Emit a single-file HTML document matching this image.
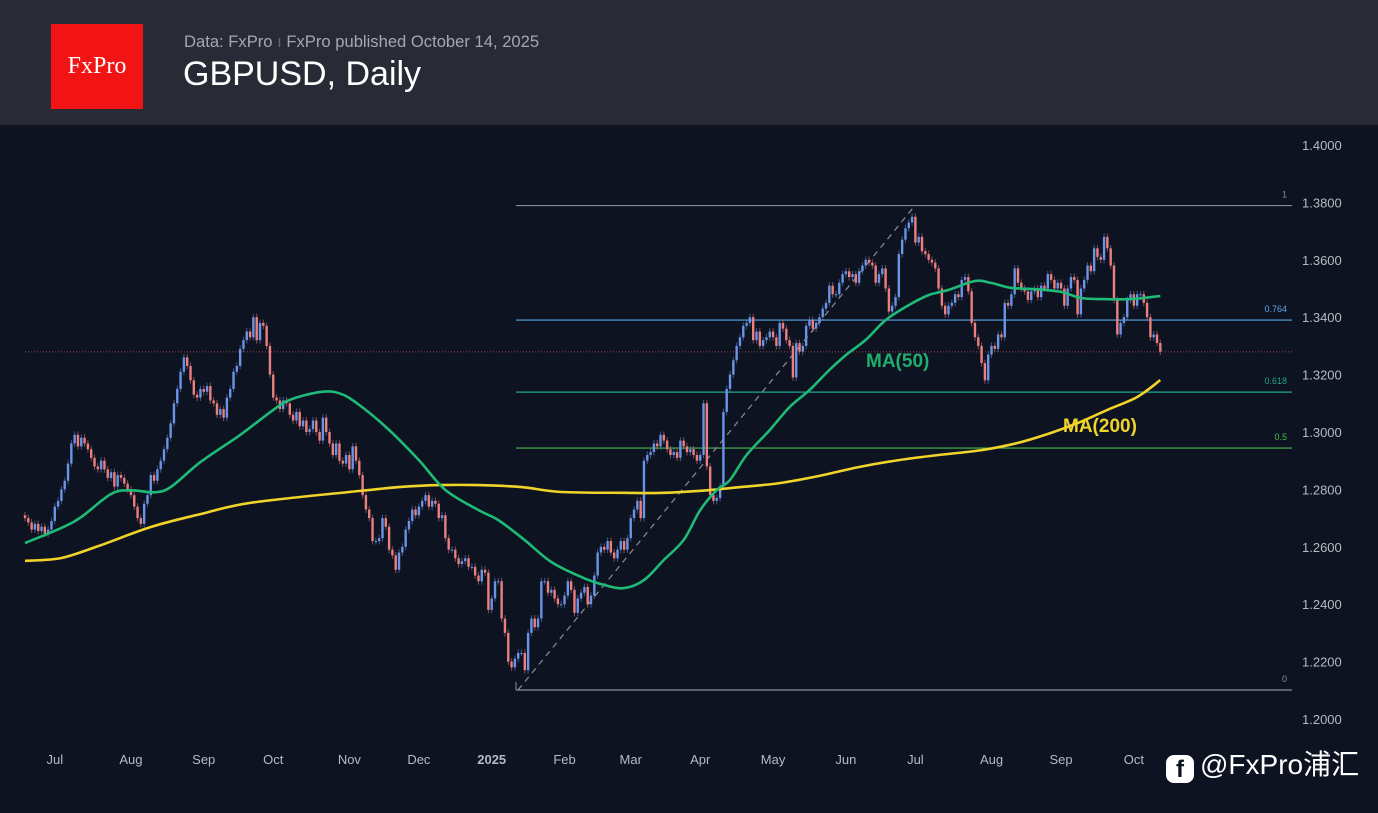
<!DOCTYPE html>
<html><head><meta charset="utf-8"><style>
body{margin:0;width:1378px;height:813px;overflow:hidden;background:#0d1320;font-family:"Liberation Sans",sans-serif}
#hdr{position:absolute;left:0;top:0;width:1378px;height:125px;background:#282b36}
#logo{position:absolute;left:51px;top:24px;width:92px;height:85px;background:#f21414;color:#fff;font-family:"Liberation Serif",serif;font-size:24px;line-height:85px;text-align:center}
#sub{position:absolute;left:184px;top:32px;color:#a5a8b0;font-size:16.6px}
#ttl{position:absolute;left:183px;top:55px;color:#fff;font-size:34px}
svg{position:absolute;left:0;top:0}
</style></head><body>
<div id="hdr">
<div id="logo">FxPro</div>
<div id="sub">Data: FxPro <span style="color:#666">ı</span> FxPro published October 14, 2025</div>
<div id="ttl">GBPUSD, Daily</div>
</div>
<svg id="c" width="1378" height="813"></svg>
<script>
const closes=[12700,12685,12660,12680,12655,12670,12645,
12660,12690,12740,12760,12800,12830,12890,12960,12990,12950,12980,12960,12940,12910,12880,12870,12900,12870,12840,12860,12810,12850,12840,
12820,12800,12780,12740,12700,12680,12750,12780,12850,12830,12870,12900,12940,12980,13030,13100,13150,13210,13260,13230,13180,13130,
13120,13150,13140,13160,13110,13100,13060,13080,13050,13120,13150,13210,13230,13290,13320,13350,13330,13400,13320,13380,13370,
13300,13200,13120,13110,13080,13110,13100,13060,13040,13070,13020,13040,13000,13010,13040,13000,12970,13050,13000,12960,12920,12960,12900,
12890,12920,12870,12950,12900,12850,12780,12730,12700,12620,12620,12630,12700,12670,12590,12570,12520,12580,12600,12660,12690,
12730,12710,12740,12760,12780,12740,12760,12750,12700,12710,12630,12590,12590,12560,12540,12550,12560,12530,12530,12500,12480,12520,
12510,12380,12420,12480,12480,12350,12300,12200,12180,12210,12230,12230,12170,12300,12350,12320,12350,12480,12480,12440,12450,12420,12400,
12400,12430,12480,12450,12370,12420,12440,12460,12400,12430,12500,12580,12600,12590,12620,12580,12560,12590,12620,12590,
12630,12700,12730,12760,12700,12900,12920,12930,12960,12950,12990,12970,12940,12920,12930,12910,12970,12950,12930,12940,12920,
12900,12920,13100,12880,12780,12760,12770,12810,13070,13150,13200,13250,13300,13330,13370,13380,13400,13320,13350,13300,13320,13330,
13350,13330,13300,13380,13360,13320,13300,13190,13310,13280,13300,13370,13390,13360,13380,13400,13430,13450,13510,13480,13480,13520,
13550,13560,13540,13550,13520,13560,13580,13600,13590,13580,13520,13550,13570,13500,13420,13440,13470,13620,13670,13710,13730,
13750,13660,13680,13630,13620,13600,13590,13570,13500,13440,13410,13440,13450,13480,13470,13530,13540,13490,13380,13330,13300,13240,13180,
13270,13300,13290,13340,13330,13450,13440,13480,13570,13520,13500,13490,13460,13490,13500,13470,13510,13500,13550,13530,13500,
13520,13500,13440,13500,13540,13530,13410,13500,13530,13580,13560,13640,13610,13600,13680,13640,13580,13460,13340,13380,13400,13460,
13480,13440,13480,13480,13450,13400,13330,13340,13310,13280];
const ma50Idx=[0,11,17,26,32,39,44,53,65,75,80,89,95,101,110,119,127,137,143,151,159,168,175,181,187,193,199,204,209,213,218,225,231,237,243,248,254,260,267,273,279,287,292,298,305,313,319,326,334,343];
const ma50Val=[1.2613,1.2666,1.2704,1.2784,1.2797,1.2790,1.2808,1.2895,1.2990,1.3077,1.3112,1.3139,1.3135,1.3094,1.3007,1.2902,1.2798,1.2728,1.2693,1.2623,1.2547,1.2495,1.2467,1.2456,1.2484,1.2554,1.2624,1.2728,1.2798,1.2833,1.2920,1.3007,1.3087,1.3146,1.3216,1.3268,1.3321,1.3390,1.3442,1.3477,1.3495,1.3526,1.3519,1.3502,1.3498,1.3488,1.3467,1.3463,1.3463,1.3474];
const ma200Idx=[0,11,23,38,53,68,98,113,125,137,150,162,181,193,206,216,228,240,252,264,276,289,300,310,318,327,336,343];
const ma200Val=[1.2551,1.2561,1.2606,1.2669,1.2714,1.2753,1.2791,1.2808,1.2815,1.2815,1.2808,1.2791,1.2788,1.2788,1.2797,1.2808,1.2822,1.2847,1.2878,1.2902,1.2920,1.2937,1.2962,1.2997,1.3031,1.3077,1.3122,1.3181];
const yTicks=[1.40,1.38,1.36,1.34,1.32,1.30,1.28,1.26,1.24,1.22,1.20];
const xLabels=["Jul","Aug","Sep","Oct","Nov","Dec","2025","Feb","Mar","Apr","May","Jun","Jul","Aug","Sep","Oct"];
const xLabelIdx=[9,32,54,75,98,119,141,163,183,204,226,248,269,292,313,335];
const fibLevels=[1.3789,1.3390,1.3139,1.2944,1.2101];
const fibNames=["1","0.764","0.618","0.5","0"];
const fibColors=["#8a8d96","#5aa7ea","#1fa58e","#4cb84c","#8a8d96"];
const lastPrice=1.3279;

const NS="http://www.w3.org/2000/svg",svg=document.getElementById('c');
const Y=p=>145+(1.4-p)/0.2*574;
const X=i=>25+i*3.31;
function mk(t,a,parent){const e=document.createElementNS(NS,t);for(const k in a)e.setAttribute(k,a[k]);(parent||svg).appendChild(e);return e;}
yTicks.forEach(v=>{const t=mk('text',{x:1302,y:Y(v)+5,fill:'#b7bac2','font-size':13});


t.textContent=v.toFixed(4);});
xLabels.forEach((s,i)=>{const t=mk('text',{x:X(xLabelIdx[i]),y:764,fill:'#b7bac2','font-size':13,'text-anchor':'middle','font-weight':s==='2025'?'bold':'normal'});


t.textContent=s;});
fibLevels.forEach((v,i)=>{const l=mk('line',{x1:516,x2:1292,y1:Y(v),y2:Y(v),stroke:fibColors[i],'stroke-width':1.2});


const t=mk('text',{x:1287,y:Y(v)-8,fill:fibColors[i],'font-size':9,'text-anchor':'end'});


t.textContent=fibNames[i];});
mk('line',{x1:516,x2:516,y1:Y(fibLevels[4])-8,y2:Y(fibLevels[4]),stroke:'#8a8d96'});
const dg=mk('line',{x1:518,y1:Y(1.2101),x2:915,y2:Y(1.3789),stroke:'#8a8d96','stroke-dasharray':'6 5','stroke-width':1.2});


const lp=mk('line',{x1:25,x2:1292,y1:Y(lastPrice),y2:Y(lastPrice),stroke:'#a04848','stroke-dasharray':'1 2'});


const g=mk('g',{});


closes.forEach((c,i)=>{const cl=c/10000,op=i?closes[i-1]/10000:cl+0.001;const up=cl>=op;const col=up?'#6b93e6':'#ec7f7f';
const hi=Math.max(op,cl)+0.0012,lo=Math.min(op,cl)-0.0012,x=X(i);
mk('line',{x1:x,x2:x,y1:Y(hi),y2:Y(lo),stroke:col,'stroke-opacity':0.55,'stroke-width':1},g);
const r=mk('rect',{x:x-1.2,y:Y(Math.max(op,cl)),width:2.4,height:Math.max(1,Math.abs(Y(op)-Y(cl))),fill:col},g);

});
function line(idx,val,col,name){const P=idx.map((k,i)=>[X(k),Y(val[i])]);let d='M'+P[0][0]+','+P[0][1];
for(let i=0;i<P.length-1;i++){const p0=P[Math.max(0,i-1)],p1=P[i],p2=P[i+1],p3=P[Math.min(P.length-1,i+2)];
d+='C'+(p1[0]+(p2[0]-p0[0])/6).toFixed(1)+','+(p1[1]+(p2[1]-p0[1])/6).toFixed(1)+' '+(p2[0]-(p3[0]-p1[0])/6).toFixed(1)+','+(p2[1]-(p3[1]-p1[1])/6).toFixed(1)+' '+p2[0].toFixed(1)+','+p2[1].toFixed(1);}
const p=mk('path',{d:d,fill:'none',stroke:col,'stroke-width':2.6,'stroke-linejoin':'round'});

}
line(ma200Idx,ma200Val,'#f0d42a','ma200-line');
line(ma50Idx,ma50Val,'#1fba76','ma50-line');
const t1=mk('text',{x:866,y:367,fill:'#1fae6e','font-size':19,'font-weight':'bold'});t1.textContent='MA(50)';


const t2=mk('text',{x:1063,y:432,fill:'#f0d42a','font-size':19,'font-weight':'bold'});t2.textContent='MA(200)';


</script>
<div style="position:absolute;left:1166px;top:748px;color:#fff;font-size:28px;font-family:'Liberation Sans','Noto Sans CJK SC',sans-serif;line-height:34px;white-space:nowrap"><span style="display:inline-block;width:28px;height:28px;border-radius:8px;background:#fff;color:#0d1320;font-weight:bold;text-align:center;line-height:30px;font-size:24px;vertical-align:-3px;margin-right:6px">f</span>@FxPro浦汇</div>
</body></html>
